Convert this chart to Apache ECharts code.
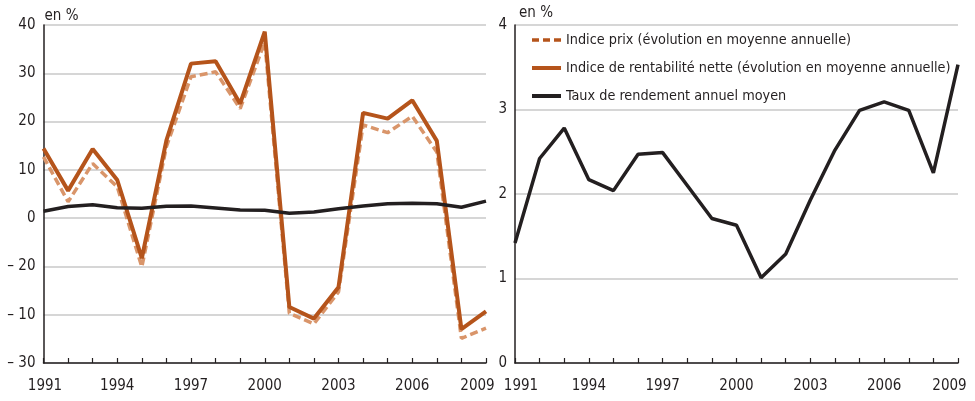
<!DOCTYPE html>
<html>
<head>
<meta charset="utf-8">
<script src="https://cdn.jsdelivr.net/npm/echarts@6/dist/echarts.min.js"></script>
<style>
  html, body { margin: 0; padding: 0; background: #fff; }
  #chart { width: 975px; height: 401px; }
</style>
</head>
<body>
<div id="chart"></div>
<script>
var years = ['1991', '1992', '1993', '1994', '1995', '1996', '1997', '1998', '1999', '2000',
  '2001', '2002', '2003', '2004', '2005', '2006', '2007', '2008', '2009'];

// Indice prix (évolution en moyenne annuelle)
var indicePrix = [12.7, 3.4, 11.3, 6.5, -10.1, 14.8, 29.3, 30.3, 22.7, 36.5,
  -19.7, -21.9, -15.3, 19.3, 17.7, 21.1, 13.7, -24.9, -22.8];

// Indice de rentabilité nette (évolution en moyenne annuelle)
var indiceRentab = [14.4, 5.7, 14.3, 7.9, -8.3, 16.1, 32.0, 32.5, 23.7, 38.6,
  -18.4, -20.8, -14.3, 21.8, 20.6, 24.4, 16.0, -23.0, -19.3];

// Taux de rendement annuel moyen
var tauxRendement = [1.42, 2.42, 2.78, 2.17, 2.04, 2.47, 2.49, 2.10, 1.71, 1.63,
  1.01, 1.29, 1.93, 2.52, 2.99, 3.09, 2.99, 2.25, 3.53];

// tick labels of the left axis, as printed (from -30 to 40)
var leftTickValues = [-30, -20, -10, 0, 10, 20, 30, 40];
var leftTickLabels = ['\u2013 30', '\u2013 10', '\u2013 20', '0', '10', '20', '30', '40'];

var names = [
  'Indice prix (évolution en moyenne annuelle)',
  'Indice de rentabilité nette (évolution en moyenne annuelle)',
  'Taux de rendement annuel moyen'
];

var font = "'DejaVu Sans Condensed', 'Liberation Sans Narrow', sans-serif";
var dark = '#231f20';
var orange = '#b5541b';
var lightOrange = '#d9956a';
var gridGrey = '#c8c8c8';
var fs = 15;

var chart = echarts.init(document.getElementById('chart'), null, { renderer: 'canvas' });

function xAxisFor(gridIndex, firstShift) {
  return {
    type: 'category',
    gridIndex: gridIndex,
    data: years,
    boundaryGap: false,
    axisLine: { onZero: false, lineStyle: { color: dark, width: 1.5 } },
    axisTick: { inside: true, length: 5, interval: 0, lineStyle: { color: dark, width: 1.2 } },
    axisLabel: {
      interval: 2,
      margin: 16,
      color: dark,
      fontFamily: font,
      fontSize: fs,
      formatter: function (v) {
        if (v === '2009') return '{last|' + v + '}';
        if (v === '1991') return '{first|' + v + '}';
        return v;
      },
      rich: {
        last: { fontFamily: font, fontSize: fs, color: dark, padding: [0, 17, 0, 0] },
        first: { fontFamily: font, fontSize: fs, color: dark, padding: [0, 0, 0, firstShift] }
      }
    },
    splitLine: { show: false }
  };
}

var option = {
  animation: false,
  textStyle: { fontFamily: font },
  grid: [
    { left: 43.5, right: 975 - 486, top: 25, bottom: 401 - 363 },
    { left: 515, right: 975 - 958, top: 25, bottom: 401 - 363 }
  ],
  legend: {
    orient: 'vertical',
    left: 525,
    top: 28,
    itemWidth: 29,
    itemHeight: 10,
    itemGap: 14,
    itemStyle: { opacity: 0 },
    textStyle: { fontFamily: font, fontSize: 14.3, color: dark, padding: [0, 0, 0, 0] },
    data: [
      { name: names[0], lineStyle: { color: orange, width: 3.5, type: [7, 4] } },
      { name: names[1], lineStyle: { width: 4 } },
      { name: names[2], lineStyle: { width: 4 } }
    ]
  },
  xAxis: [xAxisFor(0, 3), xAxisFor(1, 12)],
  yAxis: [
    {
      type: 'value',
      gridIndex: 0,
      min: -30,
      max: 40,
      interval: 10,
      name: 'en %',
      nameLocation: 'end',
      nameGap: 1,
      nameTextStyle: { fontFamily: font, fontSize: fs, color: dark, align: 'left', padding: [0, 0, 0, 1] },
      axisLine: { show: true, lineStyle: { color: dark, width: 1.5 } },
      axisTick: { show: false },
      axisLabel: {
        margin: 8,
        color: dark,
        fontFamily: font,
        fontSize: fs,
        formatter: function (v) {
          var i = leftTickValues.indexOf(v);
          return i >= 0 ? leftTickLabels[i] : '';
        }
      },
      splitLine: { lineStyle: { color: gridGrey, width: 1.5 } }
    },
    {
      type: 'value',
      gridIndex: 1,
      min: 0,
      max: 4,
      interval: 1,
      name: 'en %',
      nameLocation: 'end',
      nameGap: 4,
      nameTextStyle: { fontFamily: font, fontSize: fs, color: dark, align: 'left', padding: [0, 0, 0, 4] },
      axisLine: { show: true, lineStyle: { color: dark, width: 1.5 } },
      axisTick: { show: false },
      axisLabel: { margin: 8, color: dark, fontFamily: font, fontSize: fs },
      splitLine: { lineStyle: { color: gridGrey, width: 1.5 } }
    }
  ],
  series: [
    {
      name: names[0],
      type: 'line',
      xAxisIndex: 0,
      yAxisIndex: 0,
      data: indicePrix,
      symbol: 'none',
      z: 2,
      lineStyle: { color: lightOrange, width: 3.5, type: [8, 4] },
      itemStyle: { color: lightOrange }
    },
    {
      name: names[1],
      type: 'line',
      xAxisIndex: 0,
      yAxisIndex: 0,
      data: indiceRentab,
      symbol: 'none',
      z: 3,
      lineStyle: { color: orange, width: 4 },
      itemStyle: { color: orange }
    },
    {
      name: names[2],
      type: 'line',
      xAxisIndex: 0,
      yAxisIndex: 0,
      data: tauxRendement,
      symbol: 'none',
      z: 4,
      lineStyle: { color: dark, width: 3.5 },
      itemStyle: { color: dark }
    },
    {
      name: names[2],
      type: 'line',
      xAxisIndex: 1,
      yAxisIndex: 1,
      data: tauxRendement,
      symbol: 'none',
      z: 4,
      lineStyle: { color: dark, width: 3.5 },
      itemStyle: { color: dark }
    }
  ]
};

chart.setOption(option);
</script>
</body>
</html>
